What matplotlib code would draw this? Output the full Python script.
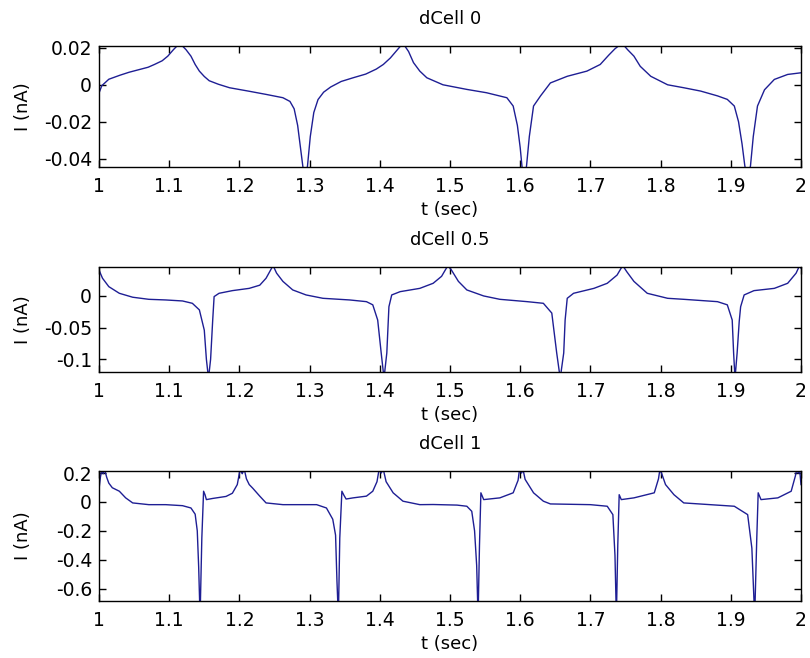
import matplotlib
matplotlib.use("Agg")
import numpy as np
from matplotlib import pyplot as plt

plt.rcParams["font.family"] = ["DejaVu Sans"]
plt.rcParams["axes.unicode_minus"] = False

LINE_COLOR = "#1e1e94"

# dCell 0 trace
t_d0 = [1.000, 1.004, 1.014, 1.030, 1.043, 1.057, 1.070, 1.079, 1.090, 1.098,
        1.106, 1.115, 1.124, 1.131, 1.137, 1.143, 1.150, 1.157, 1.170, 1.186,
        1.214, 1.238, 1.262, 1.272, 1.278, 1.283, 1.287, 1.291, 1.294, 1.297,
        1.301, 1.306, 1.312, 1.320, 1.330, 1.345, 1.362, 1.380, 1.395, 1.405,
        1.415, 1.424, 1.433, 1.441, 1.448, 1.457, 1.467, 1.490, 1.524, 1.552,
        1.581, 1.590, 1.596, 1.600, 1.603, 1.606, 1.609, 1.613, 1.619, 1.629,
        1.643, 1.667, 1.695, 1.714, 1.726, 1.735, 1.745, 1.753, 1.762, 1.771,
        1.786, 1.810, 1.833, 1.857, 1.881, 1.895, 1.905, 1.911, 1.916, 1.920,
        1.924, 1.928, 1.932, 1.938, 1.948, 1.962, 1.981, 2.000]
i_d0 = [-0.0045, -0.0005, 0.0030, 0.0052, 0.0068, 0.0082, 0.0095, 0.0110, 0.0130, 0.0155,
        0.0190, 0.0225, 0.0190, 0.0155, 0.0110, 0.0074, 0.0045, 0.0022, 0.0003, -0.0016,
        -0.0035, -0.0052, -0.0070, -0.0090, -0.0130, -0.0220, -0.0340, -0.0460, -0.0500, -0.0440,
        -0.0280, -0.0150, -0.0080, -0.0040, -0.0012, 0.0018, 0.0038, 0.0058, 0.0085, 0.0110,
        0.0145, 0.0185, 0.0225, 0.0180, 0.0120, 0.0074, 0.0038, 0.0000, -0.0025, -0.0043,
        -0.0070, -0.0115, -0.0220, -0.0340, -0.0460, -0.0500, -0.0440, -0.0280, -0.0115, -0.0060,
        0.0010, 0.0046, 0.0074, 0.0110, 0.0160, 0.0195, 0.0225, 0.0190, 0.0155, 0.0100,
        0.0046, 0.0000, -0.0016, -0.0034, -0.0060, -0.0079, -0.0115, -0.0200, -0.0320, -0.0440,
        -0.0500, -0.0440, -0.0280, -0.0115, -0.0027, 0.0029, 0.0056, 0.0065]

# dCell 0.5 trace
t_d05 = [1.000, 1.005, 1.014, 1.029, 1.048, 1.071, 1.095, 1.119, 1.133, 1.143,
         1.150, 1.153, 1.156, 1.159, 1.162, 1.164, 1.171, 1.190, 1.214, 1.229,
         1.238, 1.248, 1.253, 1.262, 1.276, 1.295, 1.319, 1.357, 1.381, 1.390,
         1.397, 1.402, 1.406, 1.410, 1.413, 1.417, 1.429, 1.457, 1.476, 1.488,
         1.497, 1.502, 1.512, 1.524, 1.548, 1.571, 1.610, 1.633, 1.645, 1.652,
         1.657, 1.662, 1.664, 1.667, 1.676, 1.705, 1.724, 1.738, 1.746, 1.752,
         1.762, 1.781, 1.810, 1.833, 1.881, 1.895, 1.902, 1.904, 1.906, 1.909,
         1.912, 1.914, 1.919, 1.933, 1.962, 1.981, 1.993, 1.998, 2.000]
i_d05 = [0.041, 0.028, 0.0147, 0.0042, -0.002, -0.0053, -0.0063, -0.0079, -0.0116, -0.022,
         -0.054, -0.100, -0.130, -0.100, -0.038, -0.001, 0.0042, 0.0084, 0.012, 0.017,
         0.028, 0.048, 0.036, 0.023, 0.0095, 0.0016, -0.0037, -0.0063, -0.009, -0.014,
         -0.038, -0.090, -0.130, -0.090, -0.017, 0.0016, 0.0068, 0.012, 0.020, 0.031,
         0.048, 0.041, 0.023, 0.0095, 0.000, -0.0053, -0.009, -0.0116, -0.027, -0.090,
         -0.130, -0.090, -0.038, -0.0037, 0.0042, 0.012, 0.020, 0.033, 0.048, 0.038,
         0.023, 0.0042, -0.0037, -0.0053, -0.009, -0.014, -0.038, -0.090, -0.130, -0.090,
         -0.040, -0.017, 0.0016, 0.0084, 0.012, 0.020, 0.036, 0.048, 0.044]

# dCell 1 trace
t_d1 = [1.000, 1.002, 1.004, 1.006, 1.008, 1.011, 1.014, 1.019, 1.029, 1.038,
        1.048, 1.071, 1.095, 1.119, 1.131, 1.137, 1.140, 1.142, 1.144, 1.1465,
        1.149, 1.151, 1.153, 1.162, 1.181, 1.190, 1.197, 1.201, 1.204, 1.207,
        1.210, 1.214, 1.219, 1.229, 1.238, 1.262, 1.310, 1.324, 1.333, 1.337,
        1.339, 1.341, 1.343, 1.346, 1.349, 1.352, 1.362, 1.381, 1.390, 1.396,
        1.399, 1.402, 1.405, 1.409, 1.419, 1.433, 1.457, 1.476, 1.510, 1.524,
        1.531, 1.535, 1.538, 1.540, 1.542, 1.544, 1.548, 1.571, 1.590, 1.597,
        1.599, 1.602, 1.604, 1.607, 1.619, 1.633, 1.643, 1.700, 1.724, 1.732,
        1.735, 1.737, 1.739, 1.741, 1.744, 1.762, 1.791, 1.797, 1.799, 1.802,
        1.807, 1.819, 1.833, 1.905, 1.924, 1.930, 1.934, 1.937, 1.939, 1.943,
        1.967, 1.986, 1.992, 1.994, 1.996, 1.998, 2.000]
i_d1 = [0.086, 0.17, 0.225, 0.195, 0.225, 0.17, 0.13, 0.098, 0.074, 0.028,
        -0.007, -0.019, -0.019, -0.026, -0.042, -0.085, -0.20, -0.45, -0.80, -0.25,
        0.074, 0.05, 0.016, 0.024, 0.038, 0.06, 0.12, 0.225, 0.195, 0.225,
        0.16, 0.12, 0.095, 0.040, -0.007, -0.019, -0.019, -0.042, -0.12, -0.23,
        -0.55, -0.80, -0.25, 0.074, 0.045, 0.020, 0.028, 0.040, 0.074, 0.14,
        0.225, 0.20, 0.225, 0.14, 0.063, 0.005, -0.019, -0.018, -0.022, -0.030,
        -0.065, -0.20, -0.44, -0.80, -0.30, 0.063, 0.016, 0.028, 0.063, 0.15,
        0.225, 0.20, 0.225, 0.156, 0.063, 0.005, -0.014, -0.019, -0.030, -0.088,
        -0.37, -0.80, -0.30, 0.05, 0.016, 0.028, 0.063, 0.16, 0.225, 0.19,
        0.12, 0.05, -0.007, -0.030, -0.088, -0.32, -0.80, -0.25, 0.063, 0.016,
        0.028, 0.074, 0.18, 0.225, 0.20, 0.225, 0.12]

titles = ["dCell 0", "dCell 0.5", "dCell 1"]
traces = [(t_d0, i_d0), (t_d05, i_d05), (t_d1, i_d1)]
ylims = [(-0.0445, 0.021), (-0.120, 0.0458), (-0.686, 0.214)]
yticks = [[-0.04, -0.02, 0, 0.02], [-0.1, -0.05, 0], [-0.6, -0.4, -0.2, 0, 0.2]]
ytick_labels = [["-0.04", "-0.02", "0", "0.02"], ["-0.1", "-0.05", "0"],
                ["-0.6", "-0.4", "-0.2", "0", "0.2"]]
xticks = [1, 1.1, 1.2, 1.3, 1.4, 1.5, 1.6, 1.7, 1.8, 1.9, 2]
xtick_labels = ["1", "1.1", "1.2", "1.3", "1.4", "1.5", "1.6", "1.7", "1.8", "1.9", "2"]

# axes boxes in figure fractions: left, bottom, width, height
boxes = [(0.1222, 0.7462, 0.8667, 0.1839),
         (0.1222, 0.4347, 0.8667, 0.1596),
         (0.1222, 0.0866, 0.8667, 0.1976)]

fig = plt.figure(figsize=(8.1, 6.58), dpi=100)

for box, (t, i), title, ylim, yt, ytl in zip(boxes, traces, titles, ylims, yticks, ytick_labels):
    ax = fig.add_axes(box)
    ax.plot(t, i, color=LINE_COLOR, linewidth=1.0)
    ax.set_xlim(1, 2)
    ax.set_ylim(*ylim)
    ax.set_xticks(xticks)
    ax.set_xticklabels(xtick_labels)
    ax.set_yticks(yt)
    ax.set_yticklabels(ytl)
    ax.tick_params(direction="in", length=5, width=1, top=True, right=True,
                   labelsize=13.5, colors="black")
    ax.tick_params(axis="x", pad=7)
    ax.tick_params(axis="y", pad=5)
    for spine in ax.spines.values():
        spine.set_linewidth(1.0)
    ax.set_title(title, fontsize=13, pad=16)
    ax.set_xlabel("t (sec)", fontsize=13, labelpad=4)
    ax.set_ylabel("I (nA)", fontsize=13)
    ax.yaxis.set_label_coords(-0.095, 0.5)

fig.savefig("out.png", dpi=100)
